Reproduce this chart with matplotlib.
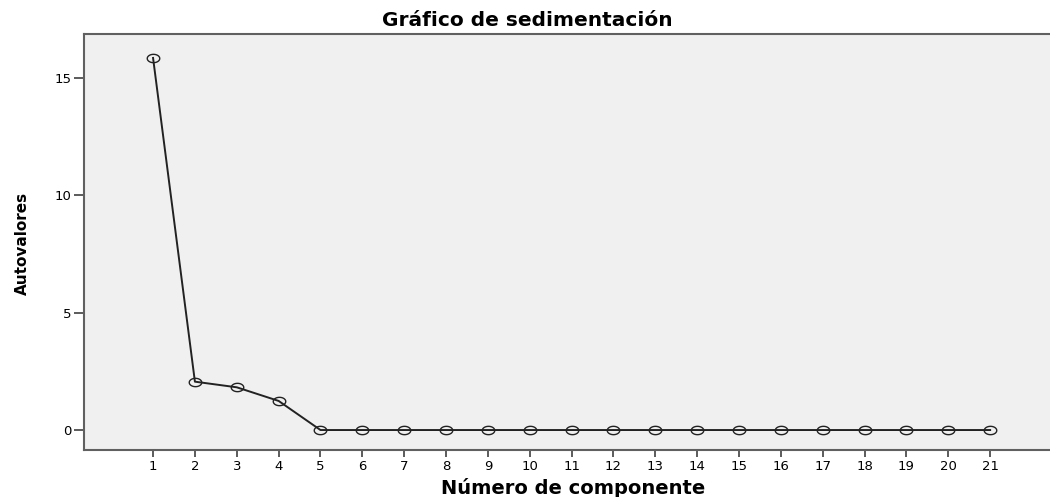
import matplotlib
matplotlib.use("Agg")
import matplotlib.pyplot as plt
import numpy as np
from matplotlib.path import Path

componentes = list(range(1, 22))
autovalores = [15.85, 2.06, 1.82, 1.24, 0.0, 0.0, 0.0, 0.0, 0.0, 0.0, 0.0,
               0.0, 0.0, 0.0, 0.0, 0.0, 0.0, 0.0, 0.0, 0.0, 0.0]
xticks = list(range(1, 22))
yticks = [0, 5, 10, 15]

t = np.linspace(0, 2 * np.pi, 60)
ellipse = Path(np.column_stack([1.5 * np.cos(t), np.sin(t)]), closed=True)

fig = plt.figure(figsize=(10.5, 4.97), dpi=100)
ax = fig.add_axes([0.08, 0.0946, 0.92, 0.837])
ax.set_facecolor('#f0f0f0')
ax.plot(componentes, autovalores, color='#222222', lw=1.4,
        marker=ellipse, markersize=9, markerfacecolor='none',
        markeredgecolor='#222222', markeredgewidth=1.0)
ax.set_xlim(-0.65, 22.43)
ax.set_ylim(-0.85, 16.87)
ax.set_xticks(xticks)
ax.set_xticklabels([str(v) for v in xticks])
ax.set_yticks(yticks)
ax.set_yticklabels([str(v) for v in yticks])
for s in ['left', 'bottom', 'top']:
    ax.spines[s].set_color('#606060')
    ax.spines[s].set_linewidth(1.5)
ax.spines['right'].set_visible(False)
ax.tick_params(axis='y', length=7, width=1.2, color='#404040', labelsize=9.5, pad=2)
ax.tick_params(axis='x', length=5, width=1.2, color='#404040', labelsize=9.5, pad=2)

fig.text(0.502, 0.958, 'Gráfico de sedimentación', ha='center', va='center',
         fontsize=14.5, fontweight='bold', family='DejaVu Sans')
fig.text(0.546, 0.018, 'Número de componente', ha='center', va='center',
         fontsize=14, fontweight='bold', family='DejaVu Sans')
fig.text(0.021, 0.511, 'Autovalores', ha='center', va='center', rotation=90,
         fontsize=11, fontweight='bold', family='DejaVu Sans')

fig.savefig('out.png', dpi=100)
